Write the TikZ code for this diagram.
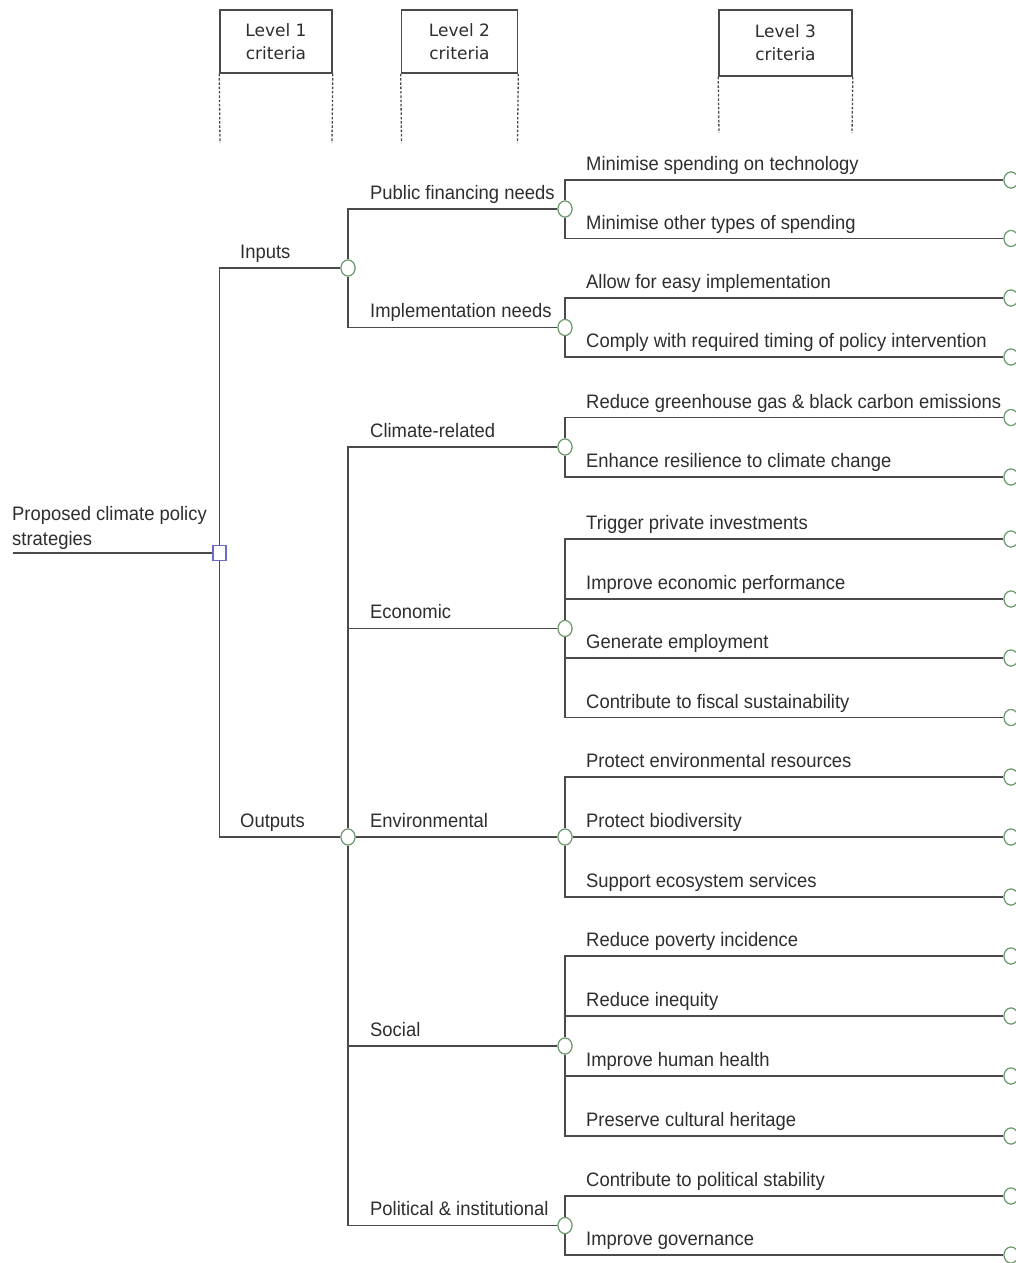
\documentclass[tikz,border=0pt]{standalone}
\usepackage{fontspec}
\setmainfont{Liberation Sans}[FakeStretch=0.945]
\newfontfamily\headfont{DejaVu Sans}
\usetikzlibrary{shapes.geometric}
\definecolor{linegray}{HTML}{4A4A4A}
\definecolor{txtgray}{HTML}{2E2E2E}
\definecolor{knotgreen}{HTML}{6F9A6F}
\definecolor{sqblue}{HTML}{6B6BC0}
\tikzset{
  conn/.style={draw=linegray, line width=1.6pt},
  guide/.style={draw=linegray, line width=1.3pt, dash pattern=on 2.5pt off 1.8pt},
  knot/.style={ellipse, draw=knotgreen, fill=white, line width=1.1pt, minimum width=14pt, minimum height=16pt, inner sep=0pt},
  rootsq/.style={rectangle, draw=sqblue, fill=white, line width=1.1pt, minimum width=13pt, minimum height=15pt, inner sep=0pt},
  lbl/.style={anchor=base west, inner sep=0pt, text=txtgray, font=\fontsize{19.5}{25}\selectfont},
  headbox/.style={rectangle, draw=linegray, line width=1.6pt, fill=white, align=center, text=txtgray,
    font=\headfont\fontsize{17}{23}\selectfont, inner sep=0pt}
}
\begin{document}
\begin{tikzpicture}[x=1pt, y=-1pt]
\clip (0,0) rectangle (1016,1263);
\fill[white] (0,0) rectangle (1016,1263);

% header boxes
\node[headbox, minimum width=112pt, minimum height=63pt] (h1) at (276,41.5) {Level 1\\criteria};
\node[headbox, minimum width=116pt, minimum height=63pt] (h2) at (459.5,41.5) {Level 2\\criteria};
\node[headbox, minimum width=133pt, minimum height=66pt] (h3) at (785.5,43) {Level 3\\criteria};
\coordinate (h1a) at (220,143); \coordinate (h1b) at (332,143);
\coordinate (h2a) at (401.5,143); \coordinate (h2b) at (517.5,143);
\coordinate (h3a) at (719,133); \coordinate (h3b) at (852,133);
\draw[guide] (h1.south west) -- (h1a); \draw[guide] (h1.south east) -- (h1b);
\draw[guide] (h2.south west) -- (h2a); \draw[guide] (h2.south east) -- (h2b);
\draw[guide] (h3.south west) -- (h3a); \draw[guide] (h3.south east) -- (h3b);

% leaf knots (level 3 ends)
\foreach \n/\y in {1/180,2/238.5,3/298,4/357,5/417.5,6/477,7/539,8/599,9/658,10/717.5,11/777,12/837,13/897,14/956,15/1016,16/1076,17/1136,18/1196,19/1255}{
  \node[knot] (l\n) at (1011,\y) {};
}

% level 2 knots
\node[knot] (pf) at (565,209) {};
\node[knot] (im) at (565,327.5) {};
\node[knot] (cl) at (565,447) {};
\node[knot] (ec) at (565,628.5) {};
\node[knot] (en) at (565,837) {};
\node[knot] (so) at (565,1046) {};
\node[knot] (po) at (565,1225.5) {};

% level 1 knots
\node[knot] (in) at (348,268) {};
\node[knot] (out) at (348,837) {};

% root
\node[rootsq] (root) at (219.5,553) {};
\coordinate (rootstart) at (12.5,553);

% connectors
\draw[conn] (rootstart) -- (root.west);
\draw[conn] (root.north) |- (in.west);
\draw[conn] (root.south) |- (out.west);

\draw[conn] (in.north) |- (pf.west);
\draw[conn] (in.south) |- (im.west);

\draw[conn] (out.north) |- (cl.west);
\draw[conn] (out.north) |- (ec.west);
\draw[conn] (out.east) -- (en.west);
\draw[conn] (out.south) |- (so.west);
\draw[conn] (out.south) |- (po.west);

\draw[conn] (pf.north) |- (l1.west);
\draw[conn] (pf.south) |- (l2.west);
\draw[conn] (im.north) |- (l3.west);
\draw[conn] (im.south) |- (l4.west);
\draw[conn] (cl.north) |- (l5.west);
\draw[conn] (cl.south) |- (l6.west);
\draw[conn] (ec.north) |- (l7.west);
\draw[conn] (ec.north) |- (l8.west);
\draw[conn] (ec.south) |- (l9.west);
\draw[conn] (ec.south) |- (l10.west);
\draw[conn] (en.north) |- (l11.west);
\draw[conn] (en.east) -- (l12.west);
\draw[conn] (en.south) |- (l13.west);
\draw[conn] (so.north) |- (l14.west);
\draw[conn] (so.north) |- (l15.west);
\draw[conn] (so.south) |- (l16.west);
\draw[conn] (so.south) |- (l17.west);
\draw[conn] (po.north) |- (l18.west);
\draw[conn] (po.south) |- (l19.west);

% redraw knots on top
\foreach \k in {pf,im,cl,ec,en,so,po,in,out}{
  \node[knot] at (\k) {};
}
\foreach \n/\y in {1/180,2/238.5,3/298,4/357,5/417.5,6/477,7/539,8/599,9/658,10/717.5,11/777,12/837,13/897,14/956,15/1016,16/1076,17/1136,18/1196,19/1255}{
  \node[knot] at (l\n) {};
}
\node[rootsq] at (root) {};

% root label
\node[lbl, anchor=south west, align=left] (rootlbl) at (12,550) {Proposed climate policy\\strategies};

% level 1 labels
\node[lbl] (tin) at (240,258) {Inputs};
\node[lbl] (tout) at (240,827) {Outputs};

% level 2 labels
\node[lbl] (tpf) at (370,199.5) {Public financing needs};
\node[lbl] (tim) at (370,317.5) {Implementation needs};
\node[lbl] (tcl) at (370,437) {Climate-related};
\node[lbl] (tec) at (370,618.5) {Economic};
\node[lbl] (ten) at (370,827) {Environmental};
\node[lbl] (tso) at (370,1036) {Social};
\node[lbl] (tpo) at (370,1215.5) {Political \& institutional};

% level 3 labels
\node[lbl] at (586,170.5) {Minimise spending on technology};
\node[lbl] at (586,229) {Minimise other types of spending};
\node[lbl] at (586,288.5) {Allow for easy implementation};
\node[lbl] at (586,347.5) {Comply with required timing of policy intervention};
\node[lbl] at (586,408) {Reduce greenhouse gas \& black carbon emissions};
\node[lbl] at (586,467.5) {Enhance resilience to climate change};
\node[lbl] at (586,529.5) {Trigger private investments};
\node[lbl] at (586,589.5) {Improve economic performance};
\node[lbl] at (586,648.5) {Generate employment};
\node[lbl] at (586,708) {Contribute to fiscal sustainability};
\node[lbl] at (586,767.5) {Protect environmental resources};
\node[lbl] at (586,827.5) {Protect biodiversity};
\node[lbl] at (586,887.5) {Support ecosystem services};
\node[lbl] at (586,946.5) {Reduce poverty incidence};
\node[lbl] at (586,1006.5) {Reduce inequity};
\node[lbl] at (586,1066.5) {Improve human health};
\node[lbl] at (586,1126.5) {Preserve cultural heritage};
\node[lbl] at (586,1186.5) {Contribute to political stability};
\node[lbl] at (586,1245.5) {Improve governance};
\end{tikzpicture}
\end{document}
